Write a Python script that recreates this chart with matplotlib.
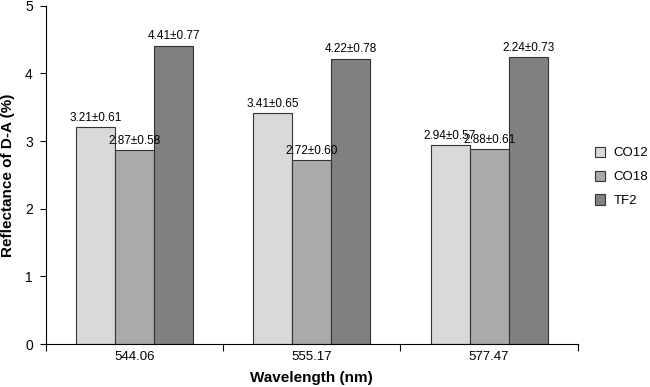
"""Grouped bar chart: reflectance of D-A at three wavelengths."""

import matplotlib
matplotlib.use("Agg")
import matplotlib.pyplot as plt
import numpy as np

plt.rcParams["font.family"] = ["Liberation Sans", "DejaVu Sans"]

WAVELENGTHS = ["544.06", "555.17", "577.47"]
SERIES = ["CO12", "CO18", "TF2"]
CO12 = [3.21, 3.41, 2.94]
CO18 = [2.87, 2.72, 2.88]
TF2 = [4.41, 4.22, 4.24]
LABELS = [
    ["3.21\u00b10.61", "3.41\u00b10.65", "2.94\u00b10.57"],
    ["2.87\u00b10.58", "2.72\u00b10.60", "2.88\u00b10.61"],
    ["4.41\u00b10.77", "4.22\u00b10.78", "2.24\u00b10.73"],
]
COLORS = ["#d9d9d9", "#aaaaaa", "#808080"]


def main() -> None:
    fig = plt.figure(figsize=(6.5, 3.87), dpi=100)
    ax = fig.add_axes([0.0708, 0.111, 0.818, 0.874])

    centers = np.arange(len(WAVELENGTHS)) + 0.5
    width = 0.22
    for idx, (name, values) in enumerate(zip(SERIES, [CO12, CO18, TF2])):
        xs = centers + (idx - 1) * width
        ax.bar(xs, values, width=width, color=COLORS[idx], edgecolor="#333333",
               linewidth=0.8, label=name)
        for x, v, text in zip(xs, values, LABELS[idx]):
            ax.text(x, v + 0.05, text, ha="center", va="bottom", fontsize=8.5)

    ax.set_xlim(0, len(WAVELENGTHS))
    ax.set_ylim(0, 5)
    ax.set_xticks(np.arange(len(WAVELENGTHS) + 1))
    ax.set_xticklabels([])
    ax.set_xticks(centers, minor=True)
    ax.set_xticklabels(WAVELENGTHS, minor=True, fontsize=9.5)
    ax.tick_params(axis="x", which="minor", length=0, pad=5)
    ax.tick_params(axis="x", which="major", length=5, direction="out")
    ax.set_yticks(range(6))
    ax.tick_params(axis="y", labelsize=10, length=4.5, pad=5)
    for side in ["top", "right"]:
        ax.spines[side].set_visible(False)

    ax.set_xlabel("Wavelength (nm)", fontsize=11, fontweight="bold", labelpad=6)
    ax.set_ylabel("Reflectance of D-A (%)", fontsize=11, fontweight="bold", labelpad=7)

    ax.legend(loc="center left", bbox_to_anchor=(1.01, 0.494), frameon=False,
              fontsize=9.5, handlelength=0.8, handleheight=0.8, handletextpad=0.6,
              labelspacing=0.85)

    fig.savefig("out.png", dpi=100)
    plt.close(fig)


if __name__ == "__main__":
    main()
